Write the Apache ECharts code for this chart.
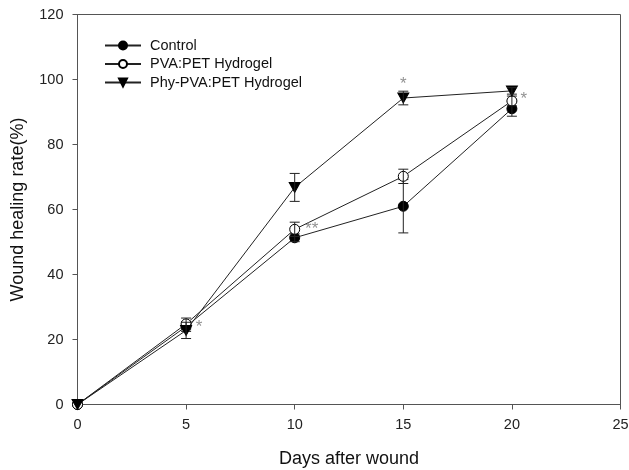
<!DOCTYPE html>
<html>
<head>
<meta charset="utf-8">
<script src="https://cdn.jsdelivr.net/npm/echarts@6/dist/echarts.min.js"></script>
<style>
html,body{margin:0;padding:0;background:#fff;}
#chart{width:629px;height:470px;}
</style>
</head>
<body>
<div id="chart"></div>
<script>
// data
var days = [0, 5, 10, 15, 20];
var seriesNames = ['Control', 'PVA:PET Hydrogel', 'Phy-PVA:PET Hydrogel'];
var control = [0, 24.0, 51.3, 61.0, 91.0];
var controlErr = [0, 1.5, 1.2, 8.2, 2.3];
var pva = [0, 24.8, 53.9, 70.2, 93.4];
var pvaErr = [0, 1.8, 2.2, 2.2, 1.5];
var phy = [0, 22.8, 66.8, 94.3, 96.5];
var phyErr = [0, 2.5, 4.3, 2.1, 1.0];
// significance marks (placed at the point they belong to)
var starDays = [5, 10, 15, 20];
var starVals = [24.8, 53.9, 94.3, 93.4];
var starText = ['*', '**', '*', '*'];
var xTicks = [0, 5, 10, 15, 20, 25];
var yTicks = [0, 20, 40, 60, 80, 100, 120];

var font = '"Liberation Sans", Arial, sans-serif';
var triDown = 'path://M0,0 L10,0 L5,9 Z';

function pts(vals) {
    var out = [];
    for (var i = 0; i < days.length; i++) out.push([days[i], vals[i]]);
    return out;
}
function errs(vals, e) {
    var out = [];
    for (var i = 0; i < days.length; i++) {
        if (e[i] > 0) out.push([days[i], vals[i] - e[i], vals[i] + e[i]]);
    }
    return out;
}

function errorBar(name, vals, e, z) {
    return {
        name: name + ' err',
        type: 'custom',
        z: z,
        silent: true,
        renderItem: function (params, api) {
            var lo = api.coord([api.value(0), api.value(1)]);
            var hi = api.coord([api.value(0), api.value(2)]);
            var w = 5;
            var st = {stroke: '#222', lineWidth: 1};
            return {
                type: 'group',
                children: [
                    {type: 'line', shape: {x1: lo[0], y1: lo[1], x2: hi[0], y2: hi[1]}, style: st},
                    {type: 'line', shape: {x1: lo[0] - w, y1: lo[1], x2: lo[0] + w, y2: lo[1]}, style: st},
                    {type: 'line', shape: {x1: hi[0] - w, y1: hi[1], x2: hi[0] + w, y2: hi[1]}, style: st}
                ]
            };
        },
        encode: {x: 0, y: [1, 2]},
        data: errs(vals, e)
    };
}

var stars = [];
for (var i = 0; i < starDays.length; i++) stars.push([starDays[i], starVals[i], starText[i]]);
var starOffsets = [[13, 3], [17, 0], [0, -14], [12, -2]];
var starData = stars.map(function (s, i) {
    return {
        value: s,
        label: {offset: starOffsets[i]}
    };
});

var myChart = echarts.init(document.getElementById('chart'));
var option = {
    animation: false,
    backgroundColor: '#fff',
    grid: {
        left: 77.5,
        right: 8.5,
        top: 14.5,
        bottom: 65.5,
        outerBoundsMode: 'none',
        containLabel: false,
        show: true,
        borderColor: '#555',
        borderWidth: 1
    },
    legend: {
        left: 104,
        top: 38,
        padding: 0,
        orient: 'vertical',
        itemWidth: 36,
        itemHeight: 10,
        itemGap: 3.5,
        data: seriesNames,
        textStyle: {fontFamily: font, fontSize: 14.5, color: '#111', padding: [0, 0, 0, 4]}
    },
    xAxis: {
        type: 'value',
        min: 0,
        max: 25,
        interval: 5,
        name: 'Days after wound',
        nameLocation: 'middle',
        nameGap: 46,
        nameTextStyle: {fontFamily: font, fontSize: 18, color: '#111'},
        axisLine: {show: true, lineStyle: {color: '#555', width: 1}},
        axisTick: {show: true, length: 5, lineStyle: {color: '#555'}},
        axisLabel: {fontFamily: font, fontSize: 14.5, color: '#222', margin: 13},
        splitLine: {show: false}
    },
    yAxis: {
        type: 'value',
        min: 0,
        max: 120,
        interval: 20,
        name: 'Wound healing rate(%)',
        nameLocation: 'middle',
        nameGap: 50,
        nameTextStyle: {fontFamily: font, fontSize: 18, color: '#111'},
        axisLine: {show: true, lineStyle: {color: '#555', width: 1}},
        axisTick: {show: true, length: 5, lineStyle: {color: '#555'}},
        axisLabel: {fontFamily: font, fontSize: 14.5, color: '#222', margin: 14},
        splitLine: {show: false}
    },
    series: [
        {
            name: seriesNames[0],
            type: 'line',
            z: 2,
            data: pts(control),
            symbol: 'circle',
            symbolSize: 10,
            showAllSymbol: true,
            lineStyle: {color: '#222', width: 1},
            itemStyle: {color: '#000', borderColor: '#000', borderWidth: 1}
        },
        errorBar(seriesNames[0], control, controlErr, 3),
        {
            name: seriesNames[1],
            type: 'line',
            z: 4,
            data: pts(pva),
            symbol: 'circle',
            symbolSize: 10,
            lineStyle: {color: '#222', width: 1},
            itemStyle: {color: '#fff', borderColor: '#000', borderWidth: 1}
        },
        errorBar(seriesNames[1], pva, pvaErr, 5),
        {
            name: seriesNames[2],
            type: 'line',
            z: 6,
            data: pts(phy),
            symbol: triDown,
            symbolSize: [11, 10],
            lineStyle: {color: '#222', width: 1},
            itemStyle: {color: '#000', borderColor: '#000', borderWidth: 1}
        },
        errorBar(seriesNames[2], phy, phyErr, 7),
        {
            name: 'stars',
            type: 'scatter',
            z: 8,
            symbolSize: 0,
            silent: true,
            data: starData,
            label: {
                show: true,
                position: 'inside',
                formatter: function (p) { return p.value[2]; },
                fontFamily: font,
                fontSize: 17,
                color: '#777'
            }
        }
    ]
};
myChart.setOption(option);
</script>
</body>
</html>
